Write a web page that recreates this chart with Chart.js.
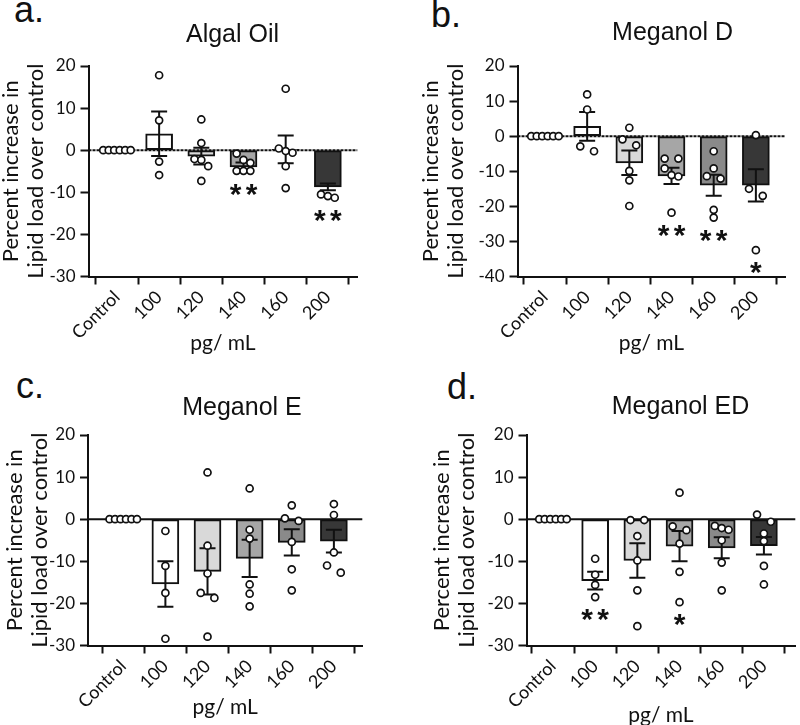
<!DOCTYPE html>
<html><head><meta charset="utf-8">
<script src="https://cdn.jsdelivr.net/npm/chart.js@4.4.1/dist/chart.umd.min.js"></script>
<style>
html,body{margin:0;padding:0;background:#fff;overflow:hidden;width:800px;height:725px;}
#wrap{position:relative;width:800px;height:725px;overflow:hidden;}
#wrap canvas{position:absolute;}
.lab{position:absolute;font-family:'Liberation Sans',Arial,sans-serif;font-size:36px;line-height:36px;color:#111;}
</style></head><body><div id="wrap">
<div class="lab" style="left:14px;top:-8px">a.</div>
<div class="lab" style="left:431px;top:-3.5px">b.</div>
<div class="lab" style="left:16px;top:367.5px">c.</div>
<div class="lab" style="left:447px;top:368.5px">d.</div>
</div>
<script>
// ---------------- DATA ----------------
const categories = ['Control', '100', '120', '140', '160', '200'];
const xAxisTitle = 'pg/ mL';
const yAxisTitle = ['Percent increase in', 'Lipid load over control'];

// a. Algal Oil
const meanAlgalOil = [0, 3.9, -1.4, -4.0, 0.2, -8.7];
const semAlgalOil  = [0, 5.3, 2.0, 1.1, 3.3, 0.8];
const ptsAlgalOil  = [
  [0, 0, 0, 0, 0, 0],
  [17.8, 7.1, -2.7, -5.9],
  [7.3, 1.7, -2.1, -2.3, -3.8, -7.3],
  [-0.8, -2.3, -3.0, -4.9, -4.9, -4.9],
  [14.6, 0.4, -0.2, -0.6, -3.8, -9.0],
  [-10.5, -10.9, -11.3]
];
const sigAlgalOil = ['', '', '', '**', '', '**'];

// b. Meganol D
const meanMeganolD = [0, 2.8, -7.6, -11.3, -14.0, -14.0];
const semMeganolD  = [0, 4.1, 3.5, 2.3, 3.0, 4.6];
const ptsMeganolD  = [
  [0, 0, 0, 0, 0, 0],
  [11.9, 7.6, -2.9, -4.3],
  [2.4, -0.9, -2.6, -9.9, -12.6, -19.9],
  [-6.4, -6.4, -9.2, -11.1, -11.5, -21.8],
  [-4.3, -9.2, -11.4, -12.1, -21.0, -23.2],
  [0.3, -15.0, -17.0, -32.5]
];
const sigMeganolD = ['', '', '', '**', '**', '*'];

// c. Meganol E
const meanMeganolE = [0, -15.4, -12.4, -9.3, -5.5, -5.2];
const semMeganolE  = [0, 5.4, 5.5, 4.4, 3.1, 2.7];
const ptsMeganolE  = [
  [0, 0, 0, 0, 0, 0],
  [-2.8, -11.1, -17.5, -28.4],
  [11.1, -6.3, -12.9, -17.5, -18.7, -27.9],
  [7.3, -2.5, -4.6, -15.5, -17.7, -20.7],
  [3.3, 0.2, -0.4, -5.4, -11.9, -16.9],
  [3.6, 1.0, -7.9, -11.0, -12.7]
];
const sigMeganolE = ['', '', '', '', '', ''];

// d. Meganol ED
const meanMeganolED = [0, -14.6, -9.8, -6.4, -6.8, -6.3];
const semMeganolED  = [0, 2.1, 4.1, 3.6, 2.5, 2.1];
const ptsMeganolED  = [
  [0, 0, 0, 0, 0, 0],
  [-9.4, -13.2, -15.6, -18.5],
  [-0.2, -0.2, -4.0, -9.8, -16.9, -25.4],
  [6.3, -1.7, -2.6, -5.8, -12.5, -19.7],
  [-1.6, -2.1, -2.5, -5.0, -10.3, -16.9],
  [1.1, -0.6, -3.4, -5.2, -11.1, -15.5]
];
const sigMeganolED = ['', '**', '', '*', '', ''];

// ---------------- STYLE / LAYOUT ----------------
const barColors = ['#ffffff', '#ffffff', '#d9d9d9', '#a6a6a6', '#8a8a8a', '#373737'];
const INK = '#111111';
const panels = [
  {title: 'Algal Oil',  means: meanAlgalOil,  sems: semAlgalOil,  pts: ptsAlgalOil,  sig: sigAlgalOil,  yMin: -30, yMax: 20, dash: [3, 1],
   L: {left: 88,  top: 66,  right: 362, bottom: 276, yTitleX: 10,   titleX: 232, titleY: 35,  xTitleY: 343, originY: 0,   cat0: 117, step: 43}},
  {title: 'Meganol D',  means: meanMeganolD,  sems: semMeganolD,  pts: ptsMeganolD,  sig: sigMeganolD,  yMin: -40, yMax: 20, dash: [3, 1],
   L: {left: 517, top: 66,  right: 790, bottom: 276, yTitleX: 430,  titleX: 672, titleY: 33,  xTitleY: 343, originY: 0,   cat0: 545, step: 43}},
  {title: 'Meganol E',  means: meanMeganolE,  sems: semMeganolE,  pts: ptsMeganolE,  sig: sigMeganolE,  yMin: -30, yMax: 20, dash: [],
   L: {left: 88,  top: 435, right: 368, bottom: 645, yTitleX: 14.5, titleX: 242, titleY: 408, xTitleY: 707, originY: 362, cat0: 124, step: 43}},
  {title: 'Meganol ED', means: meanMeganolED, sems: semMeganolED, pts: ptsMeganolED, sig: sigMeganolED, yMin: -30, yMax: 20, dash: [],
   L: {left: 526, top: 435, right: 800, bottom: 645, yTitleX: 441,  titleX: 680, titleY: 407, xTitleY: 715, originY: 362, cat0: 553, step: 43}}
];

Chart.defaults.font.family = 'Lato, "Open Sans", sans-serif';
Chart.defaults.color = INK;

// GraphPad-like scatter arrangement (horizontal offsets in pixels, computed)
function swarmOffsets(vals, pxY) {
  const idx = vals.map((v, i) => i).sort((a, b) => vals[b] - vals[a]);
  const off = new Array(vals.length).fill(0);
  let cl = [idx[0]];
  const flush = () => {
    const n = cl.length;
    const s = n === 2 ? 14 : (n > 1 ? Math.min(7, 28 / (n - 1)) : 0);
    cl.forEach((k, j) => { off[k] = (j - (n - 1) / 2) * s; });
  };
  for (let j = 1; j < idx.length; j++) {
    if ((vals[idx[j - 1]] - vals[idx[j]]) * pxY < 7.5) cl.push(idx[j]);
    else { flush(); cl = [idx[j]]; }
  }
  flush();
  return off;
}

function makeDeco(p, cx) {
  return {
    id: 'deco',
    afterLayout(chart) {
      const tb = chart.titleBlock;
      if (tb) { const c = (tb.left + tb.right) / 2; const dx = cx - c; tb.left += dx; tb.right += dx; }
    },
    afterDatasetDraw(chart, args) {
      if (args.index !== 0) return;
      const {ctx, chartArea: a, scales: {x, y}} = chart;
      ctx.save();
      ctx.strokeStyle = INK; ctx.lineWidth = 2;
      ctx.setLineDash(p.dash);
      const y0 = y.getPixelForValue(0);
      ctx.beginPath(); ctx.moveTo(a.left, y0); ctx.lineTo(a.right, y0); ctx.stroke();
      ctx.setLineDash([]);
      p.means.forEach((m, i) => {
        const s = p.sems[i]; if (!s) return;
        const xp = x.getPixelForValue(i);
        const yt = y.getPixelForValue(m + s), yb = y.getPixelForValue(m - s);
        ctx.beginPath();
        ctx.moveTo(xp, yt); ctx.lineTo(xp, yb);
        ctx.moveTo(xp - 8, yt); ctx.lineTo(xp + 8, yt);
        ctx.moveTo(xp - 8, yb); ctx.lineTo(xp + 8, yb);
        ctx.stroke();
      });
      ctx.restore();
    },
    afterDraw(chart) {
      const {ctx, scales: {x, y}} = chart;
      ctx.save();
      ctx.fillStyle = INK;
      ctx.font = 'bold 30px "Liberation Sans", Arial, sans-serif';
      ctx.textAlign = 'center'; ctx.textBaseline = 'alphabetic';
      const mt = ctx.measureText('*');
      const shift = (mt.actualBoundingBoxDescent - mt.actualBoundingBoxAscent) / 2;
      p.sig.forEach((s, i) => {
        if (!s) return;
        const low = Math.min(...p.pts[i], p.means[i] - p.sems[i]);
        const cy = y.getPixelForValue(low) + 18;
        const xp = x.getPixelForValue(i);
        const n = s.length;
        for (let k = 0; k < n; k++) {
          ctx.fillText('*', xp + (k - (n - 1) / 2) * 16, cy - shift);
        }
      });
      ctx.restore();
    }
  };
}

const wrap = document.getElementById('wrap');
panels.forEach((p) => {
  const L = p.L;
  const X = L.yTitleX - 12.5;
  const Y = L.originY;
  const W = L.right - X;
  const xTitleLH = 25;
  const scaleBottom = L.xTitleY + xTitleLH / 2;
  const H = scaleBottom - Y;
  const xMin = -(L.cat0 - L.left) / L.step;
  const xMax = (L.right - L.cat0) / L.step;
  const pxY = (L.bottom - L.top) / (p.yMax - p.yMin);

  const cv = document.createElement('canvas');
  cv.width = Math.round(W); cv.height = Math.round(H);
  cv.style.left = X + 'px'; cv.style.top = Y + 'px';
  cv.style.width = Math.round(W) + 'px'; cv.style.height = Math.round(H) + 'px';
  wrap.appendChild(cv);

  const barData = p.means.map((m, i) => ({x: i, y: m}));
  const ptData = [];
  p.pts.forEach((arr, i) => {
    const off = swarmOffsets(arr, pxY);
    arr.forEach((v, k) => ptData.push({x: i + off[k] / L.step, y: v}));
  });

  new Chart(cv, {
    type: 'bar',
    data: {
      datasets: [
        {type: 'bar', data: barData, order: 2, backgroundColor: barColors, borderColor: INK,
         borderWidth: 2, borderSkipped: false, barThickness: 27},
        {type: 'scatter', data: ptData, order: 1, pointRadius: 3.5, pointBorderWidth: 1.7,
         pointBackgroundColor: '#ffffff', pointBorderColor: INK}
      ]
    },
    options: {
      responsive: false, animation: false, events: [],
      devicePixelRatio: 1,
      layout: {padding: 0},
      plugins: {
        legend: {display: false}, tooltip: {enabled: false},
        title: {display: true, text: p.title, color: INK,
                font: {family: '"Liberation Sans", Arial, sans-serif', size: 25, weight: 'normal', lineHeight: 1.2},
                padding: {top: L.titleY - Y - 15, bottom: L.top - L.titleY - 15}}
      },
      scales: {
        x: {
          type: 'linear', min: xMin, max: xMax, offset: false,
          afterFit: (s) => { s.height = scaleBottom - L.bottom; },
          afterBuildTicks: (s) => { s.ticks = categories.map((c, i) => ({value: i})); },
          ticks: {autoSkip: false, minRotation: 45, maxRotation: 45, padding: 2,
                  font: {size: 18}, color: INK,
                  callback: (v) => categories[Math.round(v)]},
          grid: {drawOnChartArea: false, drawTicks: true, tickLength: 8, tickWidth: 2, tickColor: INK},
          border: {display: true, color: INK, width: 2},
          title: {display: true, text: xAxisTitle, color: INK, padding: 0,
                  font: {size: 21, lineHeight: xTitleLH / 21}}
        },
        y: {
          min: p.yMin, max: p.yMax,
          afterFit: (s) => { s.width = L.left - X; },
          ticks: {stepSize: 10, padding: 5, font: {size: 17}, color: INK},
          grid: {drawOnChartArea: false, drawTicks: true, tickLength: 8, tickWidth: 2, tickColor: INK},
          border: {display: true, color: INK, width: 2},
          title: {display: true, text: yAxisTitle, color: INK, padding: 0,
                  font: {size: 22, lineHeight: 25 / 22}}
        }
      }
    },
    plugins: [makeDeco(p, L.titleX - X)]
  });
});
</script>
</body></html>
